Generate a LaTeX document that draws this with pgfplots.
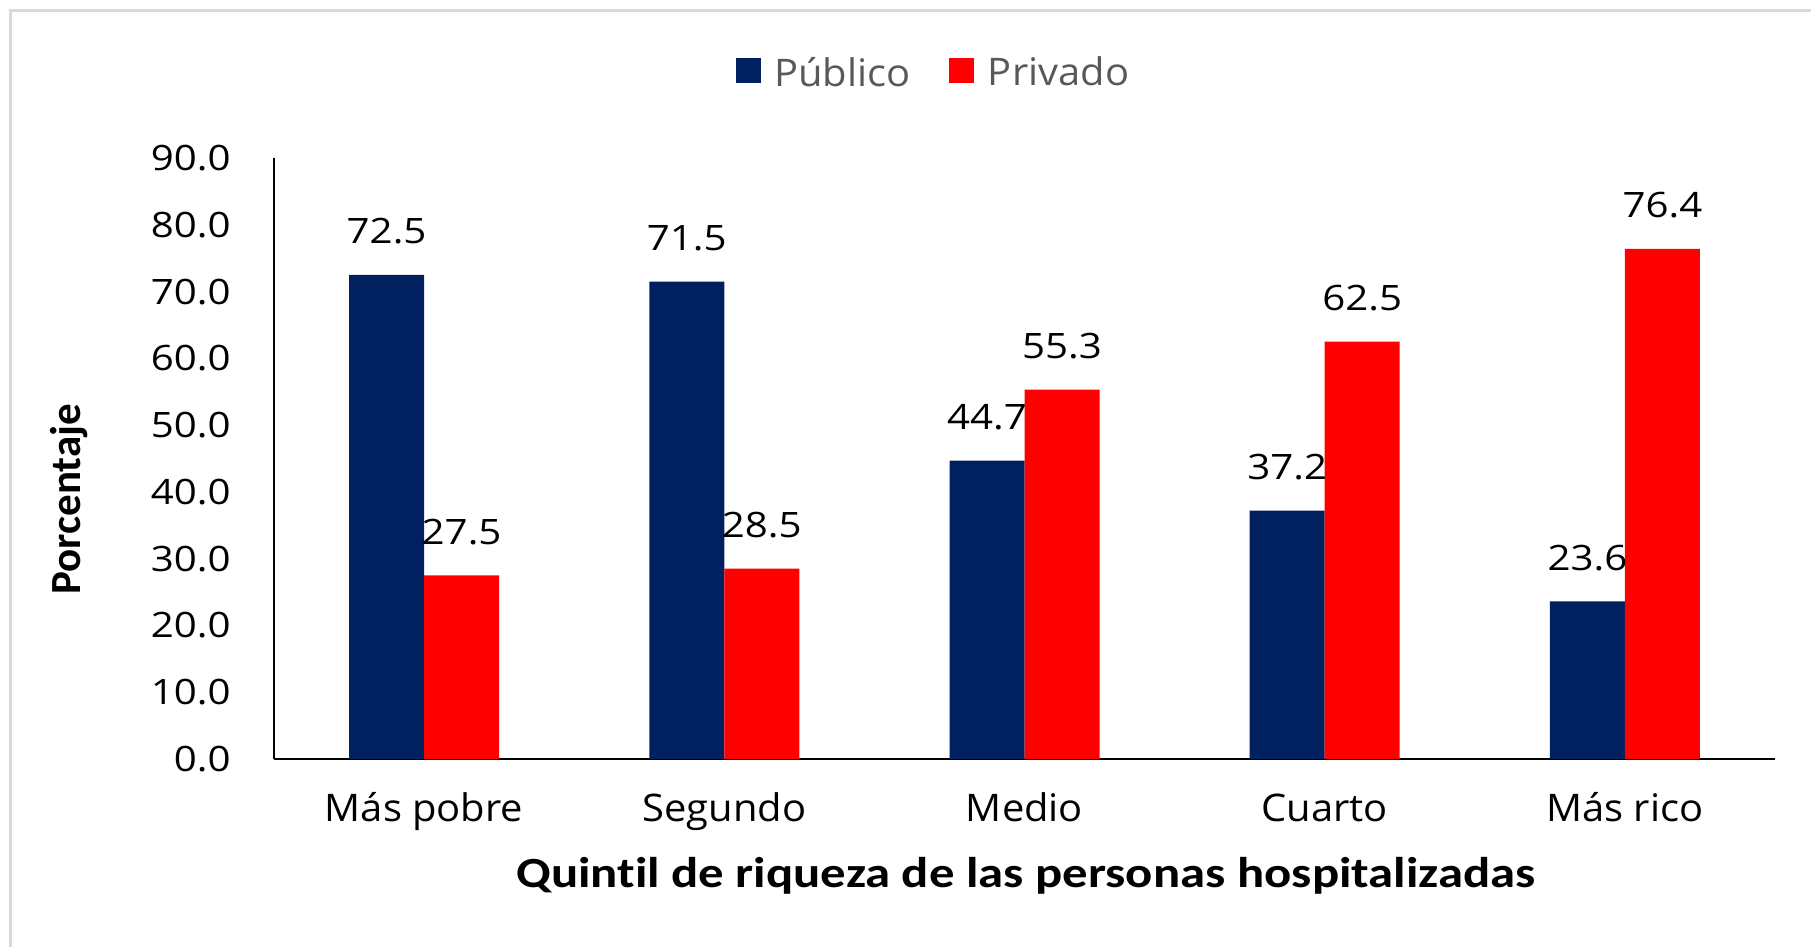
\documentclass[border=0pt]{standalone}
\usepackage{fontspec}
\setmainfont{Open Sans}
\newfontfamily\txtfont[FakeStretch=1.05]{Open Sans}
\newfontfamily\numfont[FakeStretch=1.15]{Open Sans}
\newfontfamily\carlito[FakeStretch=1.18, Ligatures=NoCommon]{Carlito}
\newfontfamily\carlitoy[Ligatures=NoCommon]{Carlito}
\usepackage{pgfplots}
\pgfplotsset{compat=1.18}
\definecolor{navy}{HTML}{002060}
\definecolor{pred}{HTML}{FF0000}
\definecolor{leggray}{HTML}{595959}
\definecolor{framegray}{HTML}{D9D9D9}
\begin{document}
\begin{tikzpicture}
\useasboundingbox (0,0) rectangle (905.5pt,473.5pt);
\draw[framegray, line width=1.5pt] (5pt,0) -- (5pt,468pt) -- (905.5pt,468pt);
\begin{axis}[
  at={(137pt,94pt)}, anchor=south west,
  scale only axis, width=750.5pt, height=300.5pt,
  xmin=-0.5, xmax=4.5, ymin=0, ymax=90,
  axis lines*=left,
  axis line style={black, line width=1.3pt},
  major tick length=0pt,
  ytick={0,10,...,90},
  xtick={0,1,2,3,4},
  xticklabels={Más pobre, Segundo, Medio, Cuarto, Más rico},
  /pgf/number format/assume math mode=true,
  yticklabel style={font=\numfont\fontsize{17.5}{20}\selectfont, anchor=east, inner sep=0pt, xshift=-21.5pt,
    /pgf/number format/.cd, fixed, fixed zerofill, precision=1},
  xticklabel style={font=\txtfont\fontsize{19}{22}\selectfont, anchor=base, inner sep=0pt, yshift=-31.5pt},
  ybar=0pt, bar width=37.5pt,
  nodes near coords,
  nodes near coords style={font=\numfont\fontsize{17.5}{20}\selectfont, anchor=south, inner sep=0pt, yshift=15pt,
    /pgf/number format/.cd, fixed, fixed zerofill, precision=1},
  xlabel={Quintil de riqueza de las personas hospitalizadas},
  xlabel style={font=\carlito\bfseries\fontsize{21.5}{25}\selectfont, at={(axis description cs:0.501,-0.213)}, anchor=base, inner sep=0pt},
  ylabel={Porcentaje},
  ylabel style={font=\carlitoy\bfseries\fontsize{21.5}{25}\selectfont, at={(axis description cs:-0.1292,0.4326)}, anchor=base, inner sep=0pt},
  legend columns=2,
  legend style={at={(axis description cs:0.44,1.1414)}, anchor=center, draw=none, fill=none,
    font=\txtfont\fontsize{19}{22}\selectfont, text=leggray,
    /tikz/every odd column/.append style={column sep=4.75pt},
    /tikz/every even column/.append style={column sep=17.5pt}},
  legend image code/.code={\fill[#1] (0pt,-5pt) rectangle (12.5pt,7.5pt);},
]
\addplot[fill=navy, draw=none] coordinates {(0,72.5) (1,71.5) (2,44.7) (3,37.2) (4,23.6)};
\addplot[fill=pred, draw=none] coordinates {(0,27.5) (1,28.5) (2,55.3) (3,62.5) (4,76.4)};
\legend{Público, Privado}
\end{axis}
\end{tikzpicture}
\end{document}
